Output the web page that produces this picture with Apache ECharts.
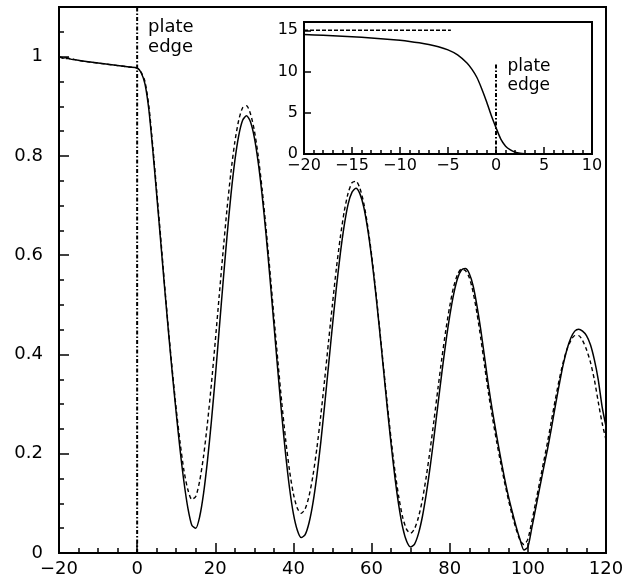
<!DOCTYPE html>
<html>
<head>
<meta charset="utf-8">
<script src="https://cdn.jsdelivr.net/npm/echarts@6/dist/echarts.min.js"></script>
<style>
  html, body { margin: 0; padding: 0; background: #fff; }
  #chart { width: 641px; height: 580px; }
</style>
</head>
<body>
<div id="chart"></div>
<script>
// Transmission profile across the plate edge (position in the main panel)
const mainX = [
  -20, -19, -18, -17, -16, -14, -12, -10, -8, -6, -4, -2,
  0, 1, 2, 3, 4, 5, 6, 7, 8, 9,
  10, 11, 12, 13, 14, 15, 16, 17, 18, 19,
  20, 21, 22, 23, 24, 25, 26, 27, 28, 29,
  30, 31, 32, 33, 34, 35, 36, 37, 38, 39,
  40, 41, 42, 43, 44, 45, 46, 47, 48, 49,
  50, 51, 52, 53, 54, 55, 56, 57, 58, 59,
  60, 61, 62, 63, 64, 65, 66, 67, 68, 69,
  70, 71, 72, 73, 74, 75, 76, 77, 78, 79,
  80, 81, 82, 83, 84, 85, 86, 87, 88, 89,
  90, 91, 92, 93, 94, 95, 96, 97, 98, 99,
  100, 101, 102, 103, 104, 105, 106, 107, 108, 109,
  110, 111, 112, 113, 114, 115, 116, 117, 118, 119,
  120
];

// Solid curve
const solidY = [
  1.000, 0.997, 0.998, 0.995, 0.994, 0.991, 0.989, 0.987, 0.985, 0.983, 0.981, 0.979,
  0.977, 0.968, 0.945, 0.893, 0.812, 0.722, 0.630, 0.537, 0.447, 0.362,
  0.282, 0.207, 0.142, 0.090, 0.056, 0.050, 0.073, 0.120, 0.186, 0.265,
  0.354, 0.450, 0.546, 0.638, 0.721, 0.790, 0.841, 0.872, 0.881, 0.869,
  0.837, 0.786, 0.720, 0.641, 0.553, 0.461, 0.368, 0.279, 0.199, 0.131,
  0.079, 0.046, 0.031, 0.037, 0.061, 0.101, 0.156, 0.223, 0.299, 0.379,
  0.459, 0.535, 0.603, 0.660, 0.703, 0.727, 0.735, 0.724, 0.697, 0.653,
  0.596, 0.528, 0.453, 0.374, 0.294, 0.219, 0.151, 0.094, 0.050, 0.023,
  0.012, 0.018, 0.039, 0.073, 0.119, 0.174, 0.235, 0.300, 0.364, 0.424,
  0.477, 0.521, 0.553, 0.570, 0.573, 0.563, 0.538, 0.497, 0.447, 0.390,
  0.333, 0.283, 0.237, 0.193, 0.152, 0.115, 0.083, 0.053, 0.027, 0.006,
  0.012, 0.050, 0.090, 0.130, 0.170, 0.208, 0.250, 0.295, 0.338, 0.378,
  0.410, 0.433, 0.447, 0.451, 0.447, 0.438, 0.420, 0.390, 0.350, 0.295,
  0.255
];

// Dashed curve
const dashedY = [
  0.999, 0.998, 0.996, 0.996, 0.994, 0.991, 0.989, 0.987, 0.985, 0.983, 0.981, 0.979,
  0.977, 0.969, 0.950, 0.900, 0.820, 0.730, 0.638, 0.543, 0.452, 0.368,
  0.290, 0.222, 0.165, 0.127, 0.108, 0.114, 0.145, 0.195, 0.262, 0.340,
  0.427, 0.518, 0.608, 0.693, 0.767, 0.828, 0.872, 0.897, 0.901, 0.885,
  0.851, 0.799, 0.732, 0.653, 0.567, 0.477, 0.388, 0.304, 0.229, 0.166,
  0.119, 0.090, 0.080, 0.089, 0.115, 0.156, 0.211, 0.277, 0.350, 0.427,
  0.502, 0.574, 0.636, 0.688, 0.725, 0.746, 0.749, 0.735, 0.705, 0.659,
  0.601, 0.533, 0.457, 0.379, 0.302, 0.229, 0.164, 0.111, 0.071, 0.047,
  0.040, 0.049, 0.072, 0.107, 0.154, 0.209, 0.269, 0.332, 0.393, 0.449,
  0.497, 0.536, 0.561, 0.572, 0.569, 0.555, 0.525, 0.482, 0.430, 0.373,
  0.318, 0.270, 0.225, 0.183, 0.144, 0.108, 0.076, 0.048, 0.026, 0.017,
  0.028, 0.063, 0.102, 0.142, 0.182, 0.222, 0.265, 0.308, 0.348, 0.383,
  0.410, 0.428, 0.438, 0.438, 0.428, 0.410, 0.385, 0.350, 0.305, 0.262,
  0.228
];

// Inset: profile near the edge
const insetX = [-20, -18, -16, -14, -12, -10, -9, -8, -7, -6, -5, -4, -3, -2.5, -2, -1.5, -1, -0.5, 0, 0.5, 1, 1.5, 2, 2.5, 3, 3.5, 4];
const insetY = [14.47, 14.38, 14.28, 14.15, 13.98, 13.78, 13.65, 13.48, 13.27, 13.0, 12.62, 12.02, 11.0, 10.25, 9.3, 7.95, 6.4, 4.7, 3.2, 1.8, 0.95, 0.5, 0.22, 0.08, 0.02, 0, 0];

// Inset reference level (dashed)
const insetRefX = [-20, -4.7];
const insetRefY = [15, 15];

// Plate edge markers
const edgeMainX = [0, 0];
const edgeMainY = [0, 1.1];
const edgeInsetX = [0, 0];
const edgeInsetY = [0, 11];

const edgeText = 'plate\nedge';

const zip = (xs, ys) => xs.map((x, i) => [x, ys[i]]);
const FONT = 'DejaVu Sans';
const minusFmt = v => (v < 0 ? '\u2212' + Math.abs(v) : String(v));

const chart = echarts.init(document.getElementById('chart'), null, { renderer: 'canvas' });

const tickStyle = { color: '#000', width: 1.5 };
const hiddenLine = { show: false, onZero: false };

chart.setOption({
  animation: false,
  backgroundColor: '#fff',
  grid: [
    { left: 59, top: 7, width: 547, height: 546, show: true, borderColor: '#000', borderWidth: 2, backgroundColor: 'transparent' },
    { left: 304, top: 22, width: 288, height: 132, show: true, borderColor: '#000', borderWidth: 2, backgroundColor: '#fff' }
  ],
  xAxis: [
    {
      gridIndex: 0, type: 'value', position: 'bottom', min: -20, max: 120, interval: 20,
      axisLine: hiddenLine,
      axisTick: { inside: true, length: 10, lineStyle: tickStyle },
      minorTick: { show: true, splitNumber: 4, length: 5, lineStyle: tickStyle },
      splitLine: { show: false },
      axisLabel: { margin: 7, color: '#000', fontFamily: FONT, fontSize: 18, formatter: minusFmt }
    },
    {
      gridIndex: 1, type: 'value', position: 'bottom', min: -20, max: 10, interval: 5,
      axisLine: hiddenLine,
      axisTick: { inside: true, length: 7, lineStyle: tickStyle },
      minorTick: { show: true, splitNumber: 5, length: 4, lineStyle: tickStyle },
      splitLine: { show: false },
      axisLabel: { margin: 4, color: '#000', fontFamily: FONT, fontSize: 16, formatter: minusFmt }
    }
  ],
  yAxis: [
    {
      gridIndex: 0, type: 'value', position: 'left', min: 0, max: 1.1, interval: 0.2,
      axisLine: hiddenLine,
      axisTick: { inside: true, length: 10, lineStyle: tickStyle },
      splitLine: { show: false },
      axisLabel: { margin: 16, color: '#000', fontFamily: FONT, fontSize: 18, showMaxLabel: false }
    },
    {
      gridIndex: 0, type: 'value', position: 'left', min: 0, max: 1.1, interval: 0.05,
      axisLine: hiddenLine,
      axisTick: { inside: true, length: 5, lineStyle: tickStyle },
      splitLine: { show: false },
      axisLabel: { show: false }
    },
    {
      gridIndex: 1, type: 'value', position: 'left', min: 0, max: 16, interval: 5,
      axisLine: hiddenLine,
      axisTick: { inside: true, length: 7, lineStyle: tickStyle },
      splitLine: { show: false },
      axisLabel: { margin: 6, color: '#000', fontFamily: FONT, fontSize: 16, showMaxLabel: false }
    }
  ],
  series: [
    {
      type: 'line', xAxisIndex: 0, yAxisIndex: 0, showSymbol: false, z: 3,
      smooth: 0.25,
      data: zip(mainX, solidY),
      lineStyle: { color: '#000', width: 1.5 }
    },
    {
      type: 'line', xAxisIndex: 0, yAxisIndex: 0, showSymbol: false, z: 3,
      smooth: 0.25,
      data: zip(mainX, dashedY),
      lineStyle: { color: '#000', width: 1.4, type: [4, 3] }
    },
    {
      type: 'line', xAxisIndex: 0, yAxisIndex: 0, showSymbol: false, z: 3,
      data: zip(edgeMainX, edgeMainY),
      lineStyle: { color: '#000', width: 2, type: [4, 2, 1.5, 2] }
    },
    {
      type: 'line', xAxisIndex: 1, yAxisIndex: 2, showSymbol: false, z: 3,
      smooth: 0.25,
      data: zip(insetX, insetY),
      lineStyle: { color: '#000', width: 1.5 }
    },
    {
      type: 'line', xAxisIndex: 1, yAxisIndex: 2, showSymbol: false, z: 3,
      data: zip(insetRefX, insetRefY),
      lineStyle: { color: '#000', width: 1.5, type: [4, 2] }
    },
    {
      type: 'line', xAxisIndex: 1, yAxisIndex: 2, showSymbol: false, z: 3,
      data: zip(edgeInsetX, edgeInsetY),
      lineStyle: { color: '#000', width: 2, type: [4, 2, 1.5, 2] }
    }
  ]
});

// Edge annotations, anchored in data coordinates
const mainPos = chart.convertToPixel({ xAxisIndex: 0, yAxisIndex: 0 }, [2.8, 1.08]);
const insetPos = chart.convertToPixel({ xAxisIndex: 1, yAxisIndex: 2 }, [1.2, 11.8]);

chart.setOption({
  graphic: [
    {
      type: 'text', x: mainPos[0], y: mainPos[1], z: 10,
      style: { text: edgeText, fill: '#000', font: '18px "DejaVu Sans"', lineHeight: 20, verticalAlign: 'top', align: 'left' }
    },
    {
      type: 'text', x: insetPos[0], y: insetPos[1], z: 10,
      style: { text: edgeText, fill: '#000', font: '17px "DejaVu Sans"', lineHeight: 19, verticalAlign: 'top', align: 'left' }
    }
  ]
});
</script>
</body>
</html>
